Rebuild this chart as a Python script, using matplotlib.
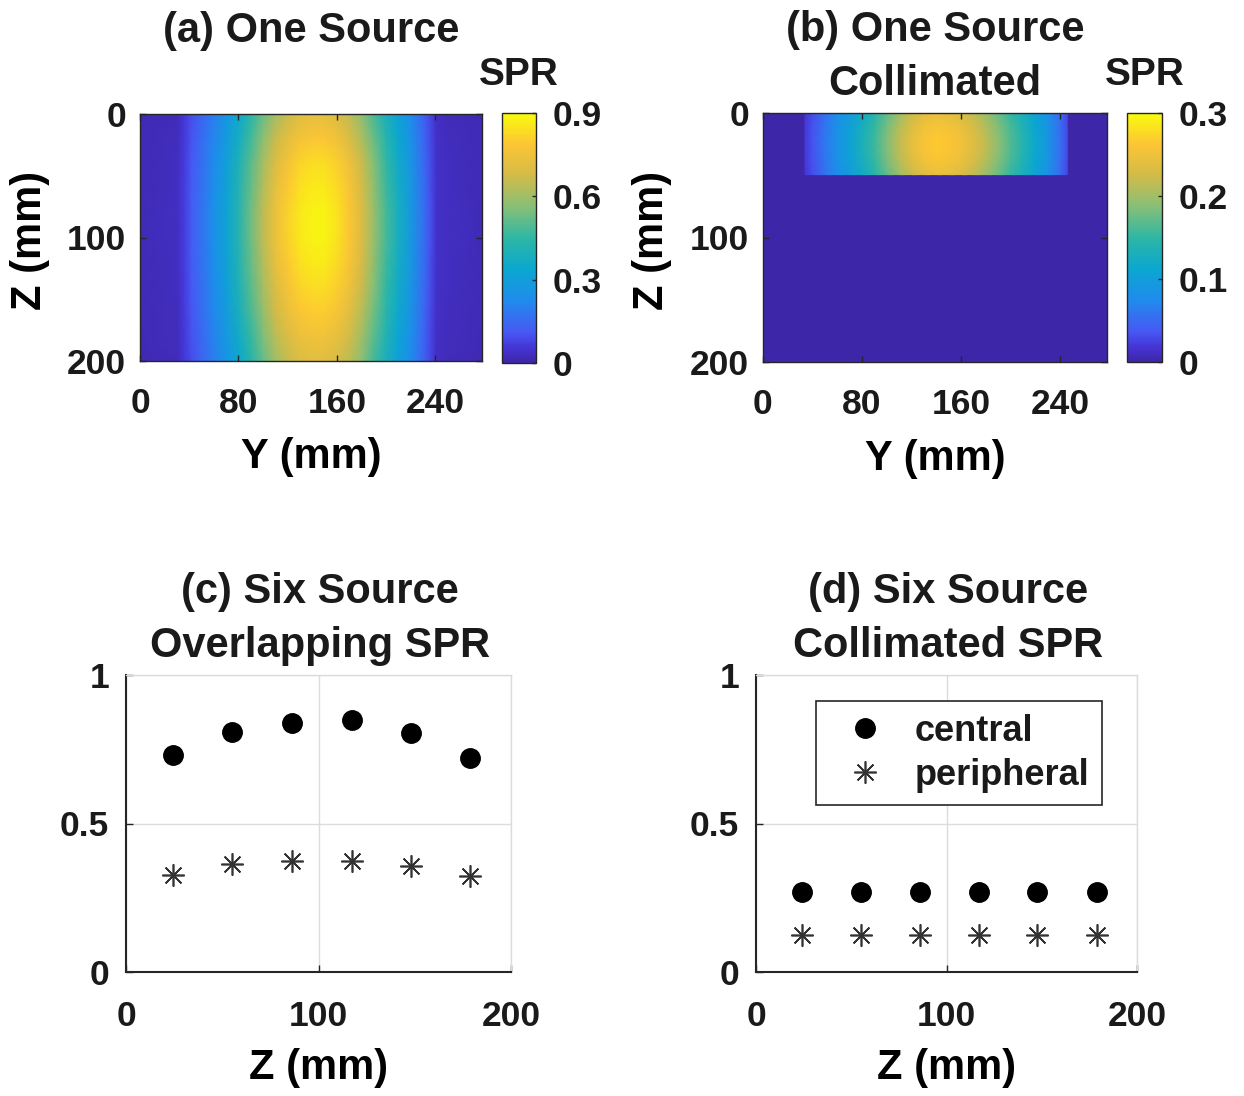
import numpy as np
import matplotlib
matplotlib.use("Agg")
import matplotlib.pyplot as plt
from matplotlib.colors import LinearSegmentedColormap

# ---------------- data ----------------
# (a) one source: SPR profile across Y (at Z~100 mm) and relative change along Z
ya_mm = [0, 15, 30, 36, 42, 50, 60, 70, 80, 90, 100, 110, 120, 130, 140, 150, 160,
         170, 180, 190, 200, 210, 220, 230, 236, 241, 250, 265, 278]
ya_spr = [0.02, 0.025, 0.03, 0.07, 0.12, 0.17, 0.24, 0.32, 0.42, 0.53, 0.64, 0.74, 0.81,
          0.86, 0.88, 0.88, 0.85, 0.79, 0.70, 0.59, 0.48, 0.38, 0.28, 0.17, 0.10, 0.04,
          0.03, 0.025, 0.02]
za_mm = [0, 20, 40, 60, 80, 100, 120, 140, 160, 180, 200]
za_rel = [0.82, 0.89, 0.95, 0.98, 1.0, 1.0, 0.98, 0.95, 0.91, 0.86, 0.81]

# (b) one source collimated
yb_mm = [0, 33, 34, 40, 50, 60, 70, 80, 90, 100, 110, 120, 130, 140, 150, 160, 170,
         180, 190, 200, 210, 220, 230, 240, 246, 247, 278]
yb_spr = [0.0, 0.0, 0.02, 0.035, 0.06, 0.085, 0.105, 0.13, 0.155, 0.185, 0.215, 0.24,
          0.258, 0.265, 0.262, 0.252, 0.235, 0.215, 0.19, 0.165, 0.14, 0.115, 0.09,
          0.055, 0.03, 0.0, 0.0]
zb_mm = [0, 10, 20, 30, 40, 50, 50.5, 200]
zb_rel = [0.92, 0.97, 1.0, 1.0, 0.97, 0.92, 0.0, 0.0]

# (c) six source overlapping
z_c = [24.6, 55.3, 86.1, 117.3, 148.0, 178.7]
central_c = [0.731, 0.809, 0.837, 0.848, 0.805, 0.719]
peripheral_c = [0.327, 0.364, 0.374, 0.374, 0.357, 0.323]

# (d) six source collimated
z_d = [24.0, 55.0, 86.1, 117.1, 147.7, 178.8]
central_d = [0.268, 0.268, 0.268, 0.268, 0.268, 0.268]
peripheral_d = [0.125, 0.125, 0.125, 0.125, 0.125, 0.125]

titles = ["(a) One Source", "(b) One Source\nCollimated",
          "(c) Six Source\nOverlapping SPR", "(d) Six Source\nCollimated SPR"]
legend_labels = ["central", "peripheral"]

# ---------------- style ----------------
parula_like = LinearSegmentedColormap.from_list("parula_like", [
    (0.0, "#3E26A8"), (0.06, "#4535D6"), (0.125, "#4759F4"), (0.25, "#1F8CED"),
    (0.375, "#0BA7D0"), (0.5, "#2EB7A4"), (0.625, "#87BF77"), (0.75, "#D2BB48"),
    (0.875, "#FCC535"), (1.0, "#F9FB0E")])

FONT = "Liberation Sans"
TXT = "#1a1a1a"
plt.rcParams["font.family"] = FONT
plt.rcParams["font.weight"] = "bold"
plt.rcParams["text.color"] = TXT
plt.rcParams["axes.labelweight"] = "bold"
plt.rcParams["axes.titleweight"] = "bold"

W, H = 1244, 1096
fig = plt.figure(figsize=(W / 100, H / 100), dpi=100)


def rect(x0, y0, x1, y1):
    return [x0 / W, 1 - y1 / H, (x1 - x0) / W, (y1 - y0) / H]


TICK = 25.5
LAB = 30


def center_labels(ax):
    for lab in (ax.xaxis.label, ax.yaxis.label):
        lab.set_va("center")
        lab.set_ha("center")


def heat_panel(axr, caxr, yv, yp, zv, zp, vmax, cticks, cticklabels, title, tyc):
    ax = fig.add_axes(axr)
    data = np.outer(np.array(zp), np.array(yp))
    m = ax.pcolormesh(yv, zv, data, shading="gouraud", cmap=parula_like,
                      vmin=0, vmax=vmax, rasterized=True)
    ax.set_xlim(0, 278)
    ax.set_ylim(200, 0)
    ax.set_xticks([0, 80, 160, 240])
    ax.set_xticklabels(["0", "80", "160", "240"])
    ax.set_yticks([0, 100, 200])
    ax.set_yticklabels(["0", "100", "200"])
    ax.tick_params(direction="in", length=4, width=1, colors="#262626",
                   labelcolor=TXT, labelsize=TICK, top=True, right=True)
    ax.tick_params(axis="x", pad=19)
    ax.tick_params(axis="y", pad=10)
    for s in ax.spines.values():
        s.set_color("#262626")
        s.set_linewidth(1.0)
    ax.set_xlabel("Y (mm)", fontsize=LAB)
    ax.set_ylabel("Z (mm)", fontsize=LAB)
    center_labels(ax)
    ax.xaxis.set_label_coords(0.5, -0.39)
    ax.yaxis.set_label_coords(-0.322, 0.49)
    ax.set_title(title, fontsize=LAB, y=tyc, pad=0, va="center", linespacing=1.45)
    cax = fig.add_axes(caxr)
    cb = fig.colorbar(m, cax=cax, ticks=cticks)
    cb.set_ticklabels(cticklabels)
    cb.outline.set_edgecolor("#262626")
    cb.outline.set_linewidth(1.0)
    cax.tick_params(direction="in", length=3, width=1, colors="#262626",
                    labelcolor=TXT, labelsize=TICK, pad=12)
    cax.set_title("SPR", fontsize=28, y=1.152, pad=0, va="center")
    return ax


heat_panel(rect(140, 114, 482, 361), rect(502, 113, 536, 363), ya_mm, ya_spr, za_mm, za_rel,
           0.9, [0, 0.3, 0.6, 0.9], ["0", "0.3", "0.6", "0.9"], titles[0], 1.335)
heat_panel(rect(763, 113, 1107, 362), rect(1127, 113, 1162, 362), yb_mm, yb_spr, zb_mm, zb_rel,
           0.3, [0, 0.1, 0.2, 0.3], ["0", "0.1", "0.2", "0.3"], titles[1], 1.225)


def scatter_panel(axr, z, cen, per, title, legend=False):
    ax = fig.add_axes(axr)
    ax.plot(z, cen, linestyle="none", marker="o", ms=14, color="black",
            label=legend_labels[0], zorder=3)
    ax.plot(z, per, linestyle="none", marker=(8, 2, 0), ms=16, mew=1.2,
            color="#333333", label=legend_labels[1], zorder=3)
    ax.set_xlim(0, 200)
    ax.set_ylim(0, 1)
    ax.set_xticks([0, 100, 200])
    ax.set_xticklabels(["0", "100", "200"])
    ax.set_yticks([0, 0.5, 1])
    ax.set_yticklabels(["0", "0.5", "1"])
    ax.grid(True, color="#dcdcdc", linewidth=1.0)
    ax.set_axisbelow(True)
    for k in ("top", "right"):
        ax.spines[k].set_color("#dcdcdc")
        ax.spines[k].set_linewidth(1.0)
    for k in ("left", "bottom"):
        ax.spines[k].set_color("#262626")
        ax.spines[k].set_linewidth(1.5)
    ax.tick_params(direction="in", length=5, width=1, colors="#262626",
                   labelcolor=TXT, labelsize=TICK)
    ax.tick_params(axis="x", pad=20)
    ax.tick_params(axis="y", pad=12)
    ax.set_xlabel("Z (mm)", fontsize=LAB)
    center_labels(ax)
    ax.xaxis.set_label_coords(0.5, -0.323)
    ax.set_title(title, fontsize=LAB, y=1.19, x=0.504, pad=0, va="center", linespacing=1.45)
    if legend:
        leg = ax.legend(loc="upper left", bbox_to_anchor=(0.157, 0.912), fontsize=26,
                        frameon=True, fancybox=False, framealpha=1, edgecolor="#262626",
                        borderpad=0.35, handlelength=2.0, handletextpad=0.4,
                        labelspacing=0.25, borderaxespad=0)
        leg.get_frame().set_linewidth(1.2)
    return ax


scatter_panel(rect(126, 675, 511, 972), z_c, central_c, peripheral_c, titles[2])
scatter_panel(rect(756, 675, 1137, 972), z_d, central_d, peripheral_d, titles[3], legend=True)

fig.savefig("out.png", dpi=100, facecolor="white")
